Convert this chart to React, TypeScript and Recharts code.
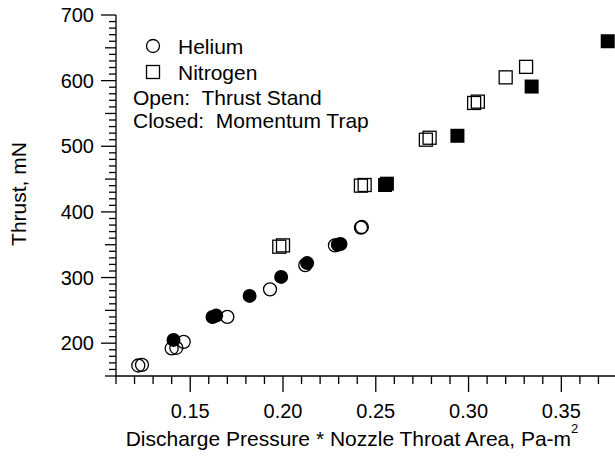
import { ScatterChart, Scatter, XAxis, YAxis } from "recharts"

// thrust vs. (discharge pressure * throat area); open = thrust stand, closed = momentum trap
const heliumStand = [
  { x: 0.122, y: 166 },
  { x: 0.124, y: 167 },
  { x: 0.14, y: 192 },
  { x: 0.1425, y: 193 },
  { x: 0.1465, y: 202 },
  { x: 0.17, y: 240 },
  { x: 0.193, y: 282 },
  { x: 0.212, y: 319 },
  { x: 0.228, y: 349 },
  { x: 0.242, y: 376 },
  { x: 0.2425, y: 377 },
]

const heliumTrap = [
  { x: 0.141, y: 205 },
  { x: 0.162, y: 240 },
  { x: 0.164, y: 242 },
  { x: 0.182, y: 272 },
  { x: 0.199, y: 301 },
  { x: 0.213, y: 322 },
  { x: 0.2295, y: 350 },
  { x: 0.231, y: 351 },
]

const nitrogenStand = [
  { x: 0.198, y: 347 },
  { x: 0.2, y: 349 },
  { x: 0.242, y: 440 },
  { x: 0.244, y: 441 },
  { x: 0.277, y: 510 },
  { x: 0.279, y: 513 },
  { x: 0.303, y: 566 },
  { x: 0.305, y: 568 },
  { x: 0.32, y: 605 },
  { x: 0.331, y: 621 },
]

const nitrogenTrap = [
  { x: 0.255, y: 441 },
  { x: 0.256, y: 443 },
  { x: 0.294, y: 516 },
  { x: 0.334, y: 591 },
  { x: 0.375, y: 660 },
]

const xMajor = [0.15, 0.2, 0.25, 0.3, 0.35]
const yMajor = [200, 300, 400, 500, 600, 700]

// minor ticks every 0.01 on x and every 10 mN on y
const xTicks: number[] = []
for (let i = 11; i <= 38; i++) xTicks.push(i / 100)
const yTicks: number[] = []
for (let v = 150; v <= 700; v += 10) yTicks.push(v)

const FONT = "'Liberation Sans', Arial, Helvetica, sans-serif"
const STROKE = 1.3

const XTick = (props: any) => {
  const { x, y, payload } = props
  const v = payload.value
  const major = xMajor.some((m) => Math.abs(m - v) < 1e-6)
  return (
    <g>
      <line x1={x} y1={y} x2={x} y2={y + (major ? 16 : 8)} stroke="#000" strokeWidth={STROKE} />
      {major && (
        <text x={x} y={y + 42} textAnchor="middle" fontSize={20} fontFamily={FONT} fill="#000">
          {v.toFixed(2)}
        </text>
      )}
    </g>
  )
}

const YTick = (props: any) => {
  const { x, y, payload } = props
  const v = Math.round(payload.value)
  const major = yMajor.includes(v)
  const len = major ? 15 : v % 50 === 0 ? 11 : 7
  return (
    <g>
      <line x1={x - len} y1={y} x2={x} y2={y} stroke="#000" strokeWidth={STROKE} />
      {major && (
        <text x={x - 22} y={y} dy="0.35em" textAnchor="end" fontSize={20} fontFamily={FONT} fill="#000">
          {v}
        </text>
      )}
    </g>
  )
}

const openCircle = (p: any) => <circle cx={p.cx} cy={p.cy} r={6.5} fill="none" stroke="#000" strokeWidth={STROKE} />
const filledCircle = (p: any) => <circle cx={p.cx} cy={p.cy} r={7} fill="#000" />
const openSquare = (p: any) => (
  <rect x={p.cx - 6.5} y={p.cy - 6.5} width={13} height={13} fill="none" stroke="#000" strokeWidth={STROKE} />
)
const filledSquare = (p: any) => <rect x={p.cx - 7} y={p.cy - 7} width={14} height={14} fill="#000" />

export default function App() {
  return (
    <div style={{ position: "absolute", left: 0, top: 0, width: 615, height: 462, overflow: "hidden", background: "#fff" }}>
      <ScatterChart width={625} height={462} margin={{ top: 15, right: 8, bottom: 26, left: 56 }}>
        <XAxis
          type="number"
          dataKey="x"
          domain={[0.11, 0.38]}
          ticks={xTicks}
          interval={0}
          allowDataOverflow
          tickSize={0}
          tickMargin={0}
          tickLine={false}
          tick={<XTick />}
          axisLine={{ stroke: "#000", strokeWidth: STROKE }}
          height={60}
        />
        <YAxis
          type="number"
          dataKey="y"
          domain={[150, 700]}
          ticks={yTicks}
          interval={0}
          allowDataOverflow
          tickSize={0}
          tickMargin={0}
          tickLine={false}
          tick={<YTick />}
          axisLine={{ stroke: "#000", strokeWidth: STROKE }}
          width={60}
        />
        <Scatter data={heliumStand} shape={openCircle} isAnimationActive={false} />
        <Scatter data={nitrogenStand} shape={openSquare} isAnimationActive={false} />
        <Scatter data={heliumTrap} shape={filledCircle} isAnimationActive={false} />
        <Scatter data={nitrogenTrap} shape={filledSquare} isAnimationActive={false} />
      </ScatterChart>

      {/* axis titles and the key */}
      <svg width={615} height={462} style={{ position: "absolute", left: 0, top: 0, pointerEvents: "none" }}>
        <g fontFamily={FONT} fontSize={21} fill="#000">
          <text x={352} y={446} textAnchor="middle">
            Discharge Pressure * Nozzle Throat Area, Pa-m
            <tspan fontSize={13} dy={-13}>2</tspan>
          </text>
          <text x={18} y={194} textAnchor="middle" dominantBaseline="central" transform="rotate(-90 18 194)">
            Thrust, mN
          </text>

          <circle cx={153} cy={46} r={6.5} fill="none" stroke="#000" strokeWidth={STROKE} />
          <text x={178} y={46} dominantBaseline="central">Helium</text>
          <rect x={146.5} y={65.5} width={13} height={13} fill="none" stroke="#000" strokeWidth={STROKE} />
          <text x={178} y={72} dominantBaseline="central">Nitrogen</text>
          <text x={133} y={97} dominantBaseline="central" style={{ whiteSpace: "pre" }}>
            {"Open:  Thrust Stand"}
          </text>
          <text x={133} y={120} dominantBaseline="central" style={{ whiteSpace: "pre" }}>
            {"Closed:  Momentum Trap"}
          </text>
        </g>
      </svg>
    </div>
  )
}
